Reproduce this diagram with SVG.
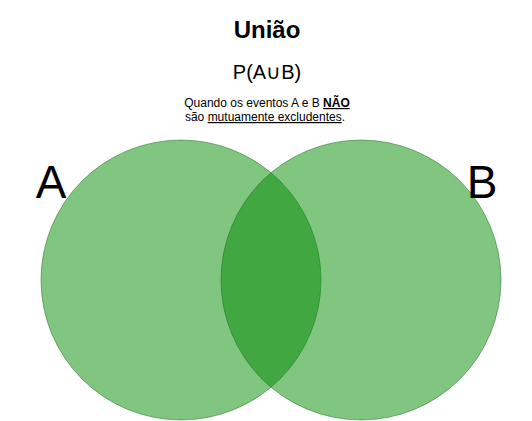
<svg xmlns="http://www.w3.org/2000/svg" width="532" height="421" viewBox="0 0 532 421">
<style>
.t{font-family:"Liberation Sans",Arial,sans-serif;fill:#000;text-anchor:middle}
.c{fill:#028B02;fill-opacity:0.5;stroke:#1a6b1a;stroke-opacity:0.5;stroke-width:1}
</style>
<rect width="532" height="421" fill="#fff"/>
<g id="circleA"><circle class="c" cx="181" cy="280" r="140"/></g>
<g id="circleB"><circle class="c" cx="361" cy="280" r="140"/></g>
<g id="connectors"></g>
<g id="title"><text class="t" x="267" y="38" font-size="24" font-weight="bold">União</text></g>
<g id="formula"><text class="t" x="267" y="79" font-size="20">P(A∪B)</text></g>
<g id="note">
<text class="t" x="267" y="107" font-size="12">Quando os eventos A e B <tspan font-weight="bold" text-decoration="underline">NÃO</tspan></text>
<text class="t" x="265" y="121" font-size="12">são <tspan text-decoration="underline">mutuamente excludentes</tspan>.</text>
</g>
<g id="labelA"><text class="t" x="51" y="198" font-size="46">A</text></g>
<g id="labelB"><text class="t" x="482" y="198" font-size="46">B</text></g>
</svg>
